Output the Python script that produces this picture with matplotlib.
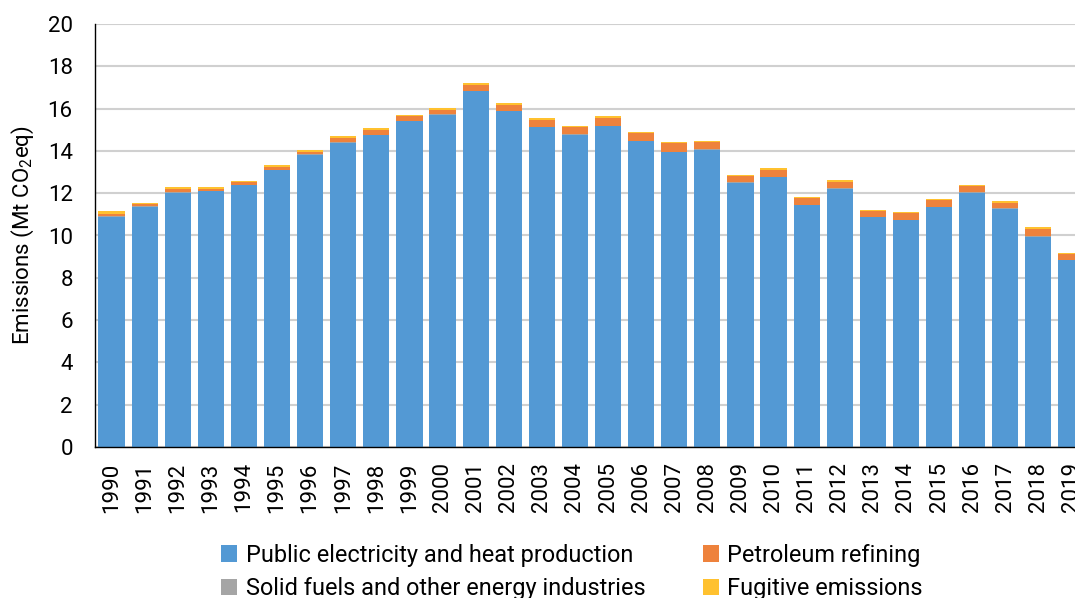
import numpy as np
import matplotlib
matplotlib.use('Agg')
import matplotlib.pyplot as plt

plt.rcParams['font.family'] = ['Roboto', 'DejaVu Sans']
plt.rcParams['mathtext.default'] = 'regular'

years = [str(y) for y in range(1990, 2020)]
public_elec = [10.88, 11.36, 12.02, 12.09, 12.39, 13.10, 13.81, 14.39, 14.75, 15.40,
               15.71, 16.83, 15.89, 15.11, 14.77, 15.18, 14.47, 13.93, 14.06, 12.50,
               12.75, 11.44, 12.21, 10.86, 10.73, 11.33, 12.02, 11.27, 9.94, 8.83]
solid_fuels = [0.02] * 30
petroleum = [0.14, 0.11, 0.14, 0.11, 0.12, 0.13, 0.13, 0.20, 0.22, 0.21,
             0.22, 0.26, 0.27, 0.34, 0.32, 0.37, 0.34, 0.42, 0.34, 0.27,
             0.34, 0.30, 0.32, 0.26, 0.30, 0.33, 0.29, 0.27, 0.37, 0.29]
fugitive = [0.10, 0.07, 0.09, 0.06, 0.05, 0.07, 0.08, 0.09, 0.08, 0.08,
            0.07, 0.08, 0.07, 0.07, 0.07, 0.08, 0.06, 0.05, 0.05, 0.07,
            0.06, 0.05, 0.07, 0.07, 0.06, 0.05, 0.06, 0.07, 0.06, 0.05]

fig = plt.figure(figsize=(10.75, 5.98), dpi=100)
# axes runs past the right edge, as in the original (2019 is clipped)
ax = fig.add_axes([95/1075, 151/598, 993/1075, 423/598])

x = np.arange(len(years))
w = 0.79
b1 = np.array(public_elec)
b2 = b1 + np.array(solid_fuels)
b3 = b2 + np.array(petroleum)
h1 = ax.bar(x, public_elec, w, color='#5399D4', zorder=3)
h2 = ax.bar(x, solid_fuels, w, bottom=b1, color='#A5A5A5', zorder=3)
h3 = ax.bar(x, petroleum, w, bottom=b2, color='#EE823C', zorder=3)
h4 = ax.bar(x, fugitive, w, bottom=b3, color='#FFC12F', zorder=3)

ax.set_xlim(-0.5, len(years) - 0.5)
ax.set_ylim(0, 20)
ax.set_yticks(range(0, 21, 2))
ax.set_xticks(x)
ax.set_xticklabels(years, rotation=90, fontsize=16)
ax.tick_params(axis='y', labelsize=16, length=0, pad=16)
ax.tick_params(axis='x', length=0, pad=11)
ax.yaxis.grid(True, color='#D0D0D0', linewidth=1.5, zorder=0)
ax.set_axisbelow(True)
for s in ['top', 'right']:
    ax.spines[s].set_visible(False)
for s in ['left', 'bottom']:
    ax.spines[s].set_color('black')
    ax.spines[s].set_linewidth(1.0)
    ax.spines[s].set_zorder(4)

ax.set_ylabel('Emissions (Mt CO$_2$eq)', fontsize=16)
ax.yaxis.set_label_coords(-(95 - 36)/993, 0.5)

fig.legend([h1, h2, h3, h4],
           ['Public electricity and heat production', 'Solid fuels and other energy industries',
            'Petroleum refining', 'Fugitive emissions'],
           ncol=2, loc='center', bbox_to_anchor=(572/1075, 26/598), frameon=False,
           fontsize=16.9, handlelength=0.7, handleheight=0.7, handletextpad=0.35,
           columnspacing=2.45, labelspacing=0.45)

fig.savefig('out.png', dpi=100)
